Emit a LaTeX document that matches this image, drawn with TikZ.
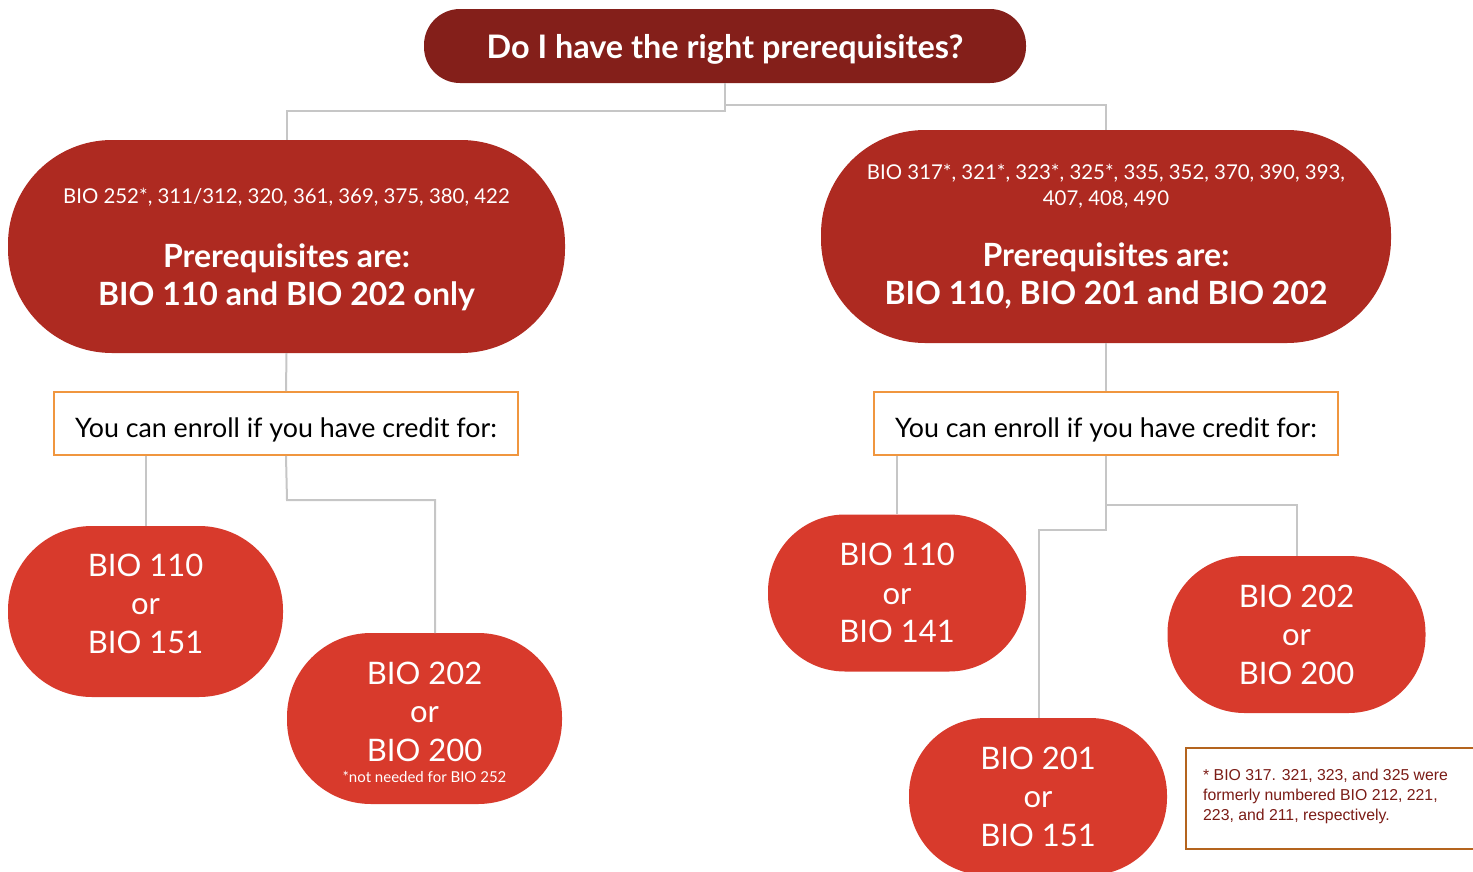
\documentclass[tikz,border=0pt]{standalone}
\usepackage{fontspec}
\setmainfont{Lato}
\newfontfamily\notefont{Liberation Sans}
\definecolor{topred}{HTML}{841F1A}
\definecolor{midred}{HTML}{AE2A21}
\definecolor{lightred}{HTML}{D83A2C}
\definecolor{boxorange}{HTML}{F0963F}
\definecolor{notebrown}{HTML}{B4641E}
\definecolor{notetext}{HTML}{7B1C16}
\definecolor{linegray}{HTML}{C6C6C6}
\begin{document}
\begin{tikzpicture}[x=1pt,y=-1pt,
  conn/.style={draw=linegray,line width=2pt},
  toppill/.style={fill=topred,text=white,inner sep=0pt,rounded corners=36pt,minimum width=602pt,minimum height=74pt,font=\bfseries\fontsize{32.4}{38}\selectfont,text height=24pt,text depth=0pt},
  bigpill/.style={fill=midred,text=white,inner sep=0pt,align=center,rounded corners=104pt,minimum height=213pt,font=\fontsize{32}{38}\selectfont},
  smallpill/.style={fill=lightred,text=white,inner sep=0pt,align=center,font=\fontsize{31}{38.5}\selectfont},
  creditbox/.style={draw=boxorange,line width=2pt,fill=white,inner sep=0pt,minimum width=464pt,minimum height=63pt,font=\fontsize{26.8}{30}\selectfont,text height=27pt,text depth=0pt}]
\useasboundingbox (0,0) rectangle (1473,871);
\clip (0,0) rectangle (1473,871);

\node[toppill] (top) at (725,46) {Do I have the right prerequisites?};

\node[bigpill,minimum width=557pt,text depth=0pt] (L) at (286.5,246.5)
 {\fontsize{20.4}{24}\selectfont BIO 252*, 311/312, 320, 361, 369, 375, 380, 422\\[26pt]
  \bfseries\fontsize{32}{38}\selectfont Prerequisites are:\\
  \bfseries\fontsize{32}{38}\selectfont BIO 110 and BIO 202 only};

\node[bigpill,minimum width=570pt] (R) at (1106,236.5)
 {\fontsize{20.4}{24}\selectfont BIO 317*, 321*, 323*, 325*, 335, 352, 370, 390, 393,\\[-12pt]
  \fontsize{20.4}{24}\selectfont 407, 408, 490\\[23pt]
  \bfseries\fontsize{32}{38}\selectfont Prerequisites are:\\
  \bfseries\fontsize{32}{38}\selectfont BIO 110, BIO 201 and BIO 202};

\node[creditbox] (Lbox) at (286,423.5) {You can enroll if you have credit for:};
\node[creditbox] (Rbox) at (1106,423.5) {You can enroll if you have credit for:};

\node[smallpill,minimum width=275pt,minimum height=171pt,rounded corners=84pt,text depth=16pt] (L1) at (145.5,611.5)
 {BIO 110\\or\\BIO 151};
\node[smallpill,minimum width=275pt,minimum height=171pt,rounded corners=84pt,text height=127.5pt,text depth=0pt] (L2) at (424.5,718.5)
 {BIO 202\\or\\BIO 200\\[-17.5pt]\fontsize{15}{18}\selectfont *not needed for BIO 252};
\node[smallpill,minimum width=258pt,minimum height=157pt,rounded corners=77pt] (R1) at (897,593)
 {BIO 110\\or\\BIO 141};
\node[smallpill,minimum width=258pt,minimum height=157pt,rounded corners=77pt] (R2) at (1296.5,634.5)
 {BIO 202\\or\\BIO 200};
\node[smallpill,minimum width=258pt,minimum height=157pt,rounded corners=77pt] (R3) at (1038,796.5)
 {BIO 201\\or\\BIO 151};

\node[draw=notebrown,line width=2pt,fill=white,anchor=north west,minimum width=300pt,minimum height=101pt,
  inner sep=0pt] (note) at (1185,747) {};
\node[anchor=north west,align=left,text=notetext,inner sep=0pt,
  font=\notefont\fontsize{15.8}{20}\selectfont] (notetxt) at (1203,768.5)
 {* BIO 317. 321, 323, and 325 were\\formerly numbered BIO 212, 221,\\223, and 211, respectively.};

\coordinate (jL) at (725,111);
\coordinate (jR) at (725,105);
\coordinate (jL2) at (287,500);
\coordinate (L2top) at (435,633);
\coordinate (jR1) at (1106,505);
\coordinate (jR2) at (1106,530);
\coordinate (R3top) at (1039,718);

\draw[conn] (top.south) -- (jL) -| (L.north);
\draw[conn] (jR) -| (R.north);
\draw[conn] (L.south) -- (Lbox.north);
\draw[conn] (R.south) -- (Rbox.north);
\draw[conn] (Lbox.south -| L1.north) -- (L1.north);
\draw[conn] (Lbox.south) -- (jL2) -| (L2top);
\draw[conn] (Rbox.south -| R1.north) -- (R1.north);
\draw[conn] (Rbox.south) -- (jR1) -| (R2.north);
\draw[conn] (jR1) -- (jR2) -| (R3top);
\end{tikzpicture}
\end{document}
